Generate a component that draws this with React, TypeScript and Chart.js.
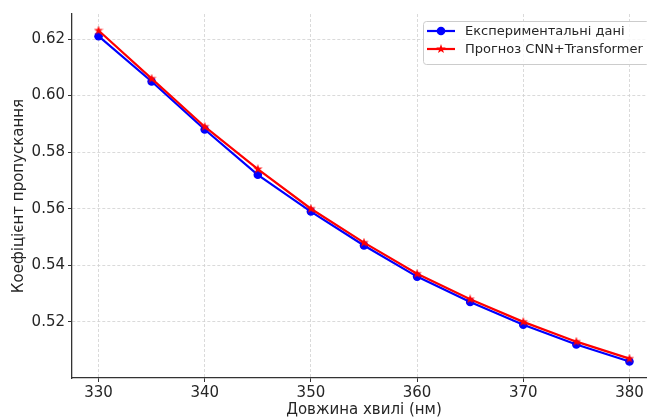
import React, { useEffect, useRef } from 'react';
import { Chart, registerables } from 'chart.js';

Chart.register(...registerables);

// ---- data ----
const wavelengths = [330, 335, 340, 345, 350, 355, 360, 365, 370, 375, 380];
const experimental = [0.621, 0.605, 0.588, 0.572, 0.559, 0.547, 0.536, 0.527, 0.519, 0.512, 0.506];
const predicted = [0.623, 0.606, 0.589, 0.574, 0.560, 0.548, 0.537, 0.528, 0.520, 0.513, 0.507];
const xTicks = [330, 340, 350, 360, 370, 380];
const yTicks = [0.52, 0.54, 0.56, 0.58, 0.6, 0.62];
const seriesLabels = ['Експериментальні дані', 'Прогноз CNN+Transformer'];
const xTitle = 'Довжина хвилі (нм)';
const yTitle = 'Коефіцієнт пропускання';

const FONT = "'DejaVu Sans', sans-serif";

function makeStar(size: number, color: string): HTMLCanvasElement {
  const c = document.createElement('canvas');
  c.width = size;
  c.height = size;
  const g = c.getContext('2d')!;
  const cx = size / 2, cy = size / 2, R = size / 2, r = R * 0.4;
  g.beginPath();
  for (let i = 0; i < 10; i++) {
    const a = -Math.PI / 2 + (i * Math.PI) / 5;
    const rad = i % 2 === 0 ? R : r;
    const px = cx + rad * Math.cos(a), py = cy + rad * Math.sin(a);
    if (i === 0) g.moveTo(px, py); else g.lineTo(px, py);
  }
  g.closePath();
  g.fillStyle = color;
  g.fill();
  return c;
}

export default function App() {
  const ref = useRef<HTMLCanvasElement | null>(null);

  useEffect(() => {
    if (!ref.current) return;
    const star = makeStar(10, '#ff0000');
    const blue = '#0000ff';
    const red = '#ff0000';

    const legendPlugin = {
      id: 'mplLegend',
      afterDraw(chart: any) {
        const ctx = chart.ctx as CanvasRenderingContext2D;
        const x0 = 423.5, y0 = 21.5, w = 226, h = 43, rr = 3;
        ctx.save();
        ctx.beginPath();
        ctx.moveTo(x0 + rr, y0);
        ctx.lineTo(x0 + w - rr, y0);
        ctx.arcTo(x0 + w, y0, x0 + w, y0 + rr, rr);
        ctx.lineTo(x0 + w, y0 + h - rr);
        ctx.arcTo(x0 + w, y0 + h, x0 + w - rr, y0 + h, rr);
        ctx.lineTo(x0 + rr, y0 + h);
        ctx.arcTo(x0, y0 + h, x0, y0 + h - rr, rr);
        ctx.lineTo(x0, y0 + rr);
        ctx.arcTo(x0, y0, x0 + rr, y0, rr);
        ctx.closePath();
        ctx.fillStyle = 'rgba(255,255,255,0.8)';
        ctx.fill();
        ctx.strokeStyle = '#cccccc';
        ctx.lineWidth = 1;
        ctx.stroke();

        const rows = [
          { label: seriesLabels[0], color: blue, marker: 'circle' },
          { label: seriesLabels[1], color: red, marker: 'star' },
        ];
        rows.forEach((row, i) => {
          const y = 31 + 18 * i;
          ctx.beginPath();
          ctx.moveTo(427, y);
          ctx.lineTo(455, y);
          ctx.strokeStyle = row.color;
          ctx.lineWidth = 2.2;
          ctx.stroke();
          if (row.marker === 'circle') {
            ctx.beginPath();
            ctx.arc(441, y, 4.3, 0, Math.PI * 2);
            ctx.fillStyle = row.color;
            ctx.fill();
          } else {
            ctx.drawImage(star, 441 - 5, y - 5);
          }
          ctx.fillStyle = '#262626';
          ctx.font = `13px ${FONT}`;
          ctx.textBaseline = 'middle';
          ctx.textAlign = 'left';
          ctx.fillText(row.label, 465, y + 1);
        });
        ctx.restore();
      },
    };

    const chart = new Chart(ref.current, {
      type: 'line',
      data: {
        datasets: [
          {
            label: seriesLabels[0],
            data: wavelengths.map((x, i) => ({ x, y: experimental[i] })),
            borderColor: blue,
            backgroundColor: blue,
            borderWidth: 2.2,
            pointRadius: 4.3,
            pointBorderWidth: 0,
            pointStyle: 'circle',
            order: 1,
            tension: 0,
          },
          {
            label: seriesLabels[1],
            data: wavelengths.map((x, i) => ({ x, y: predicted[i] })),
            borderColor: red,
            backgroundColor: red,
            borderWidth: 2.2,
            pointStyle: star as any,
            pointRadius: 5,
            order: 0,
            tension: 0,
          },
        ],
      },
      options: {
        animation: false,
        responsive: false,
        maintainAspectRatio: false,
        devicePixelRatio: 1,
        layout: { autoPadding: false, padding: { top: 14, right: 0, left: 0, bottom: 0 } },
        plugins: {
          legend: { display: false },
          tooltip: { enabled: false },
        },
        scales: {
          x: {
            type: 'linear',
            min: 327.5,
            max: 382.5,
            afterBuildTicks: (s: any) => { s.ticks = xTicks.map((v) => ({ value: v })); },
            afterFit: (s: any) => { s.height = 41; s.paddingLeft = 0; s.paddingRight = 0; },
            ticks: {
              font: { family: FONT, size: 15 },
              color: '#262626',
              padding: 2,
              maxRotation: 0,
              callback: (v: any) => String(v),
            },
            grid: {
              color: '#d0d0d0',
              lineWidth: 0.8,
              tickLength: 4,
              tickColor: '#333333',
              tickWidth: 1,
            },
            border: { display: true, color: '#333333', width: 1.3, dash: [3, 2] },
            title: {
              display: true,
              text: xTitle,
              font: { family: FONT, size: 15 },
              color: '#262626',
              padding: { top: 0, bottom: 0 },
            },
          },
          y: {
            type: 'linear',
            min: 0.50015,
            max: 0.62885,
            afterBuildTicks: (s: any) => { s.ticks = yTicks.map((v) => ({ value: v })); },
            afterFit: (s: any) => { s.width = 72; s.paddingTop = 0; s.paddingBottom = 0; },
            ticks: {
              font: { family: FONT, size: 15 },
              color: '#262626',
              padding: 3,
              callback: (v: any) => Number(v).toFixed(2),
            },
            grid: {
              color: '#d0d0d0',
              lineWidth: 0.8,
              tickLength: 4,
              tickColor: '#333333',
              tickWidth: 1,
            },
            border: { display: true, color: '#333333', width: 1.3, dash: [3, 2] },
            title: {
              display: true,
              text: yTitle,
              font: { family: FONT, size: 15 },
              color: '#262626',
              padding: { top: 10, bottom: 0 },
            },
          },
        },
      },
      plugins: [legendPlugin],
    });
    return () => chart.destroy();
  }, []);

  return (
    <div style={{ position: 'fixed', left: 0, top: 0, width: 647, height: 419, overflow: 'hidden', background: '#fff' }}>
      <div style={{ position: 'relative', width: 656, height: 419 }}>
        <canvas ref={ref} width={656} height={419} style={{ display: 'block', width: 656, height: 419 }} />
      </div>
    </div>
  );
}
